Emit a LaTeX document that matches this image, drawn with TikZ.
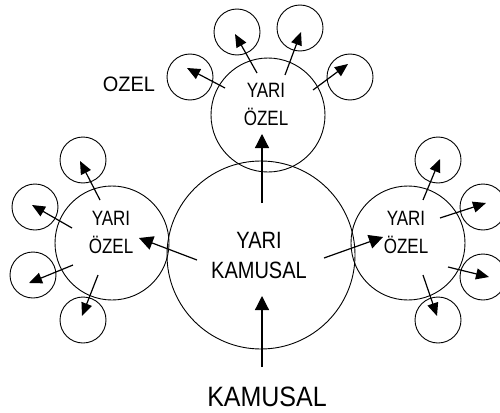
\documentclass[tikz,border=0pt]{standalone}
\usepackage{fontspec}
\setmainfont{Liberation Sans}
\usetikzlibrary{arrows.meta}
\newcommand{\twolines}[3]{\scalebox{1}[#3]{\begin{tabular}{@{}c@{}}#1\\[-1pt]#2\end{tabular}}}
\begin{document}
\begin{tikzpicture}[x=1pt,y=-1pt,
  ring/.style={draw,circle,line width=0.9pt,inner sep=0pt},
  small/.style={ring,minimum size=46pt},
  medium/.style={ring,minimum size=114pt},
  big/.style={ring,minimum size=188pt},
  mlbl/.style={font=\fontsize{17}{24}\selectfont,inner sep=0pt},
  blbl/.style={font=\fontsize{20}{27}\selectfont,inner sep=0pt},
  arr/.style={line width=1.2pt,-{Triangle[length=13pt,width=11pt]}},
  bigarr/.style={line width=1.2pt,-{Triangle[length=14pt,width=14pt]}}]
\useasboundingbox (0,0) rectangle (500,412);
% circles
\node[big] (K) at (261,255) {};
\node[medium] (T) at (268,115) {};
\node[medium] (L) at (112,243) {};
\node[medium] (R) at (408,243) {};
% small circles
\node[small] (t1) at (190,77) {};
\node[small] (t2) at (237,32) {};
\node[small] (t3) at (300,28) {};
\node[small] (t4) at (350,77) {};
\node[small] (l1) at (83,160) {};
\node[small] (l2) at (35,207) {};
\node[small] (l3) at (33,275) {};
\node[small] (l4) at (83,320) {};
\node[small] (r1) at (438,160) {};
\node[small] (r2) at (483,207) {};
\node[small] (r3) at (483,277) {};
\node[small] (r4) at (438,320) {};
% labels
\node[blbl] (kt) at (259,257) {\twolines{YARI}{KAMUSAL}{1.18}};
\node[mlbl] (tt) at (266,106) {\twolines{YARI}{ÖZEL}{1.22}};
\node[mlbl] (lt) at (111,234) {\twolines{YARI}{ÖZEL}{1.22}};
\node[mlbl] (rt) at (406,234) {\twolines{YARI}{ÖZEL}{1.22}};
\node[font=\fontsize{19}{22}\selectfont,inner sep=0pt] (oz) at (129,84) {\scalebox{1.05}[1.1]{OZEL}};
\node[font=\fontsize{25}{28}\selectfont,inner sep=0pt] (km) at (267,397) {\scalebox{1}[1.12]{KAMUSAL}};
% main arrows
\coordinate (a0) at (262,367); \coordinate (b0) at (262,296);
\coordinate (a1) at (262,203); \coordinate (b1) at (262,134);
\coordinate (a2) at (197,260); \coordinate (b2) at (139,238);
\coordinate (a3) at (324,258); \coordinate (b3) at (383,237);
\draw[bigarr] (a0) -- (b0);
\draw[bigarr] (a1) -- (b1);
\draw[bigarr] (a2) -- (b2);
\draw[bigarr] (a3) -- (b3);
% top group
\coordinate (st1) at (225,88); \coordinate (et1) at (187,68);
\coordinate (st2) at (257,73); \coordinate (et2) at (235,34);
\coordinate (st3) at (285,75); \coordinate (et3) at (301,32);
\coordinate (st4) at (313,90); \coordinate (et4) at (348,64);
\draw[arr] (st1) -- (et1);
\draw[arr] (st2) -- (et2);
\draw[arr] (st3) -- (et3);
\draw[arr] (st4) -- (et4);
% left group
\coordinate (sl1) at (100,200); \coordinate (el1) at (80,161);
\coordinate (sl2) at (72,228); \coordinate (el2) at (32,205);
\coordinate (sl3) at (73,265); \coordinate (el3) at (29,283);
\coordinate (sl4) at (98,275); \coordinate (el4) at (82,316);
\draw[arr] (sl1) -- (el1);
\draw[arr] (sl2) -- (el2);
\draw[arr] (sl3) -- (el3);
\draw[arr] (sl4) -- (el4);
% right group
\coordinate (sr1) at (423,200); \coordinate (er1) at (440,159);
\coordinate (sr2) at (440,218); \coordinate (er2) at (486,203);
\coordinate (sr3) at (448,267); \coordinate (er3) at (489,277);
\coordinate (sr4) at (423,275); \coordinate (er4) at (437,316);
\draw[arr] (sr1) -- (er1);
\draw[arr] (sr2) -- (er2);
\draw[arr] (sr3) -- (er3);
\draw[arr] (sr4) -- (er4);
\end{tikzpicture}
\end{document}
